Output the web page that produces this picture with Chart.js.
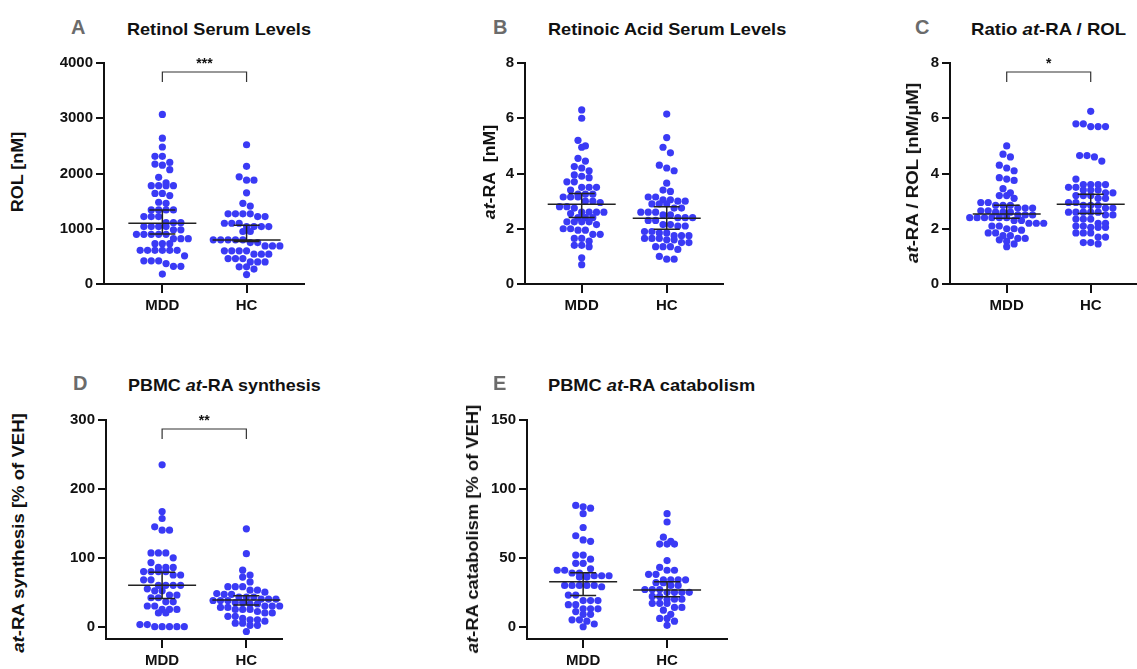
<!DOCTYPE html>
<html>
<head>
<meta charset="utf-8">
<script src="https://cdn.jsdelivr.net/npm/chart.js@4.4.1/dist/chart.umd.min.js"></script>
<style>
  body { margin: 0; background: #fff; width: 1137px; height: 669px; overflow: hidden; position: relative;
         font-family: "Liberation Sans", Arial, sans-serif; }
  canvas { position: absolute; }
  .lbl { position: absolute; font-weight: bold; white-space: nowrap; color: #6b6b6b; font-size: 20px; line-height: 1; }
  .ttl { position: absolute; font-weight: bold; white-space: nowrap; color: #111; font-size: 17px; line-height: 1;
         transform-origin: left center; }
  .ytl { position: absolute; font-weight: bold; white-space: nowrap; color: #111; font-size: 16px; line-height: 1; }
</style>
</head>
<body>
<script>
// groups on the x axis
const groups = ['MDD', 'HC'];

// A - retinol serum levels [nM]
const rolMDD = [3070, 2640, 2480, 2310, 2310, 2200, 2170, 2150, 2070, 1930, 1830, 1780, 1780, 1780, 1780,
  1640, 1640, 1600, 1480, 1460, 1340, 1340, 1340, 1340, 1220, 1220, 1220, 1110, 1110, 1110, 1040, 1040,
  1040, 1040, 980, 980, 900, 900, 900, 900, 900, 820, 820, 820, 730, 730, 730, 610, 610, 610, 610, 610,
  610, 510, 420, 420, 420, 370, 320, 320, 180];
const rolHC = [2520, 2130, 1940, 1880, 1880, 1650, 1460, 1410, 1270, 1270, 1270, 1270, 1220, 1220, 1100,
  1100, 1100, 1040, 1040, 1040, 1040, 950, 950, 800, 800, 800, 800, 800, 750, 750, 690, 690, 690, 600,
  600, 600, 600, 540, 540, 540, 460, 460, 460, 400, 400, 400, 310, 310, 270, 170];
const rolMed = [1100, 795], rolLo = [905, 770], rolHi = [1340, 1065];
const rolTicks = [0, 1000, 2000, 3000, 4000];

// B - at-RA serum levels [nM]
const raMDD = [6.3, 6.0, 5.2, 5.0, 4.95, 4.55, 4.45, 4.25, 4.2, 4.1, 3.95, 3.9, 3.85, 3.7, 3.7, 3.5, 3.5,
  3.5, 3.4, 3.25, 3.25, 3.25, 3.15, 3.15, 3.15, 3.0, 3.0, 2.95, 2.8, 2.8, 2.75, 2.6, 2.6, 2.6, 2.6, 2.55,
  2.4, 2.4, 2.4, 2.25, 2.25, 2.25, 2.25, 2.15, 2.0, 2.0, 1.95, 1.95, 1.8, 1.8, 1.65, 1.65, 1.55, 1.4,
  1.4, 1.35, 0.95, 0.7];
const raHC = [6.15, 5.3, 4.95, 4.75, 4.3, 4.2, 4.1, 3.65, 3.4, 3.35, 3.15, 3.15, 3.05, 3.05, 3.0, 3.0,
  2.9, 2.9, 2.9, 2.75, 2.75, 2.6, 2.6, 2.6, 2.5, 2.5, 2.4, 2.4, 2.4, 2.3, 2.3, 2.15, 2.15, 2.1, 2.1, 1.9,
  1.9, 1.85, 1.85, 1.75, 1.75, 1.75, 1.65, 1.65, 1.65, 1.6, 1.6, 1.5, 1.5, 1.35, 1.35, 1.35, 1.25, 1.0,
  0.9, 0.9];
const raMed = [2.89, 2.38], raLo = [2.41, 1.98], raHi = [3.28, 2.8];
const raTicks = [0, 2, 4, 6, 8];

// C - ratio at-RA / ROL [nM/uM]
const ratioMDD = [5.0, 4.7, 4.6, 4.3, 4.2, 4.1, 3.85, 3.8, 3.75, 3.45, 3.3, 3.2, 3.2, 3.1, 2.95, 2.95,
  2.85, 2.85, 2.85, 2.75, 2.75, 2.75, 2.65, 2.65, 2.6, 2.6, 2.6, 2.5, 2.5, 2.5, 2.4, 2.4, 2.4, 2.4, 2.4,
  2.4, 2.3, 2.3, 2.2, 2.2, 2.2, 2.1, 2.1, 2.0, 2.0, 1.95, 1.85, 1.85, 1.75, 1.75, 1.65, 1.65, 1.6, 1.55,
  1.45, 1.35];
const ratioHC = [6.25, 5.8, 5.8, 5.7, 5.7, 5.7, 4.65, 4.65, 4.6, 4.45, 3.8, 3.6, 3.6, 3.6, 3.6, 3.5, 3.5,
  3.4, 3.4, 3.4, 3.3, 3.3, 3.2, 3.2, 3.2, 3.1, 3.1, 2.95, 2.95, 2.85, 2.85, 2.85, 2.75, 2.75, 2.6, 2.6,
  2.6, 2.6, 2.6, 2.5, 2.5, 2.35, 2.35, 2.35, 2.2, 2.2, 2.1, 2.1, 2.05, 2.05, 2.05, 1.85, 1.85, 1.85, 1.7,
  1.7, 1.5, 1.5, 1.45];
const ratioMed = [2.53, 2.89], ratioLo = [2.38, 2.55], ratioHi = [2.85, 3.25];

// D - PBMC at-RA synthesis [% of VEH]
const synMDD = [235, 167, 157, 145, 140, 140, 107, 107, 107, 100, 93, 86, 86, 86, 80, 80, 80, 80, 75, 75,
  68, 68, 60, 60, 60, 60, 55, 52, 52, 46, 46, 42, 42, 36, 36, 30, 30, 25, 25, 25, 20, 20, 3, 3, 0, 0, 0, 0, 0];
const synHC = [142, 106, 82, 75, 72, 65, 58, 58, 58, 53, 53, 50, 48, 47, 47, 43, 43, 43, 40, 40, 40, 38,
  38, 38, 35, 35, 33, 33, 30, 30, 30, 28, 28, 25, 25, 25, 22, 20, 20, 15, 15, 12, 10, 10, 8, 5, 5, 2, 2, -7];
const synMed = [60, 38.7], synLo = [41, 31.5], synHi = [79, 45];
const synTicks = [0, 100, 200, 300];

// E - PBMC at-RA catabolism [% of VEH]
const catMDD = [88, 87, 86, 82, 72, 66, 63, 62, 52, 52, 49, 46, 46, 42, 41, 41, 39, 39, 37, 37, 37, 37,
  36, 36, 30, 30, 30, 30, 30, 29, 23, 23, 19, 19, 19, 16, 16, 13, 13, 13, 11, 9, 9, 5, 5, 4, 2, 0];
const catHC = [82, 76, 65, 62, 60, 60, 60, 48, 43, 41, 41, 38, 38, 34, 34, 34, 34, 32, 32, 30, 30, 27, 27,
  27, 25, 25, 25, 25, 22, 22, 20, 20, 20, 17, 17, 17, 14, 14, 12, 9, 6, 6, 4, 1];
const catMed = [32.7, 26.6], catLo = [22.7, 21.8], catHi = [39.2, 32.7];
const catTicks = [0, 50, 100, 150];

const significance = { A: '***', C: '*', D: '**' };

// layout of the five panels (page pixels)
const panels = [
  { key: 'A', vals: [rolMDD, rolHC], med: rolMed, lo: rolLo, hi: rolHi, ticks: rolTicks, ymin: 0, ymax: 4000,
    L: 103.5, T: 62.7, B: 284, R: 303, xmin: -0.693, xmax: 1.682,
    title: 'Retinol Serum Levels', tx: 127, ty: 21, tw: 184, lx: 71, ly: 17,
    ytitle: 'ROL [nM]', yx: 18, yy: 172, yl: 81 },
  { key: 'B', vals: [raMDD, raHC], med: raMed, lo: raLo, hi: raHi, ticks: raTicks, ymin: 0, ymax: 8,
    L: 525, T: 62.7, B: 284, R: 723, xmin: -0.667, xmax: 1.662,
    title: 'Retinoic Acid Serum Levels', tx: 548, ty: 21, tw: 238, lx: 493, ly: 17,
    ytitle: '<i>at</i>-RA&nbsp; [nM]', yx: 490, yy: 172, yl: 94 },
  { key: 'C', vals: [ratioMDD, ratioHC], med: ratioMed, lo: ratioLo, hi: ratioHi, ticks: raTicks, ymin: 0, ymax: 8,
    L: 950, T: 63.3, B: 284.3, R: 1137, xmin: -0.675, xmax: 1.551,
    title: 'Ratio <i>at</i>-RA / ROL', tx: 971, ty: 21, tw: 155, lx: 915, ly: 17,
    ytitle: '<i>at</i>-RA / ROL [nM/µM]', yx: 913, yy: 173, yl: 180 },
  { key: 'D', vals: [synMDD, synHC], med: synMed, lo: synLo, hi: synHi, ticks: synTicks, ymin: -17.9, ymax: 300,
    L: 105.5, T: 420, B: 639, R: 281.7, xmin: -0.666, xmax: 1.423,
    title: 'PBMC <i>at</i>-RA synthesis', tx: 128, ty: 377, tw: 193, lx: 73, ly: 373,
    ytitle: '<i>at</i>-RA synthesis [% of VEH]', yx: 19, yy: 533, yl: 240 },
  { key: 'E', vals: [catMDD, catHC], med: catMed, lo: catLo, hi: catHi, ticks: catTicks, ymin: -8.9, ymax: 150,
    L: 526.5, T: 420, B: 639, R: 726.7, xmin: -0.669, xmax: 1.714,
    title: 'PBMC <i>at</i>-RA catabolism', tx: 548, ty: 377, tw: 207, lx: 493, ly: 373,
    ytitle: '<i>at</i>-RA catabolism [% of VEH]', yx: 472.5, yy: 529, yl: 248 }
];

const YW = 60, PT = 16, PR = 4, XH = 40;
const DOT = 'rgb(58, 58, 245)';
const INK = '#111';
const FONT = { family: '"Liberation Sans", Arial, sans-serif', size: 15, weight: 'bold' };

// median with 95% CI, plus the significance bracket
const statsPlugin = {
  id: 'stats',
  afterDatasetsDraw(chart, args, opts) {
    const ctx = chart.ctx, xs = chart.scales.x, ys = chart.scales.y;
    ctx.save();
    ctx.strokeStyle = '#222';
    ctx.lineWidth = 1.5;
    opts.med.forEach((m, g) => {
      const cx = xs.getPixelForValue(g);
      const ym = ys.getPixelForValue(m), yl = ys.getPixelForValue(opts.lo[g]), yh = ys.getPixelForValue(opts.hi[g]);
      ctx.beginPath();
      ctx.moveTo(cx - 34, ym); ctx.lineTo(cx + 34, ym);
      ctx.moveTo(cx, yl); ctx.lineTo(cx, yh);
      ctx.moveTo(cx - 13, yl); ctx.lineTo(cx + 13, yl);
      ctx.moveTo(cx - 13, yh); ctx.lineTo(cx + 13, yh);
      ctx.stroke();
    });
    if (opts.sig) {
      const x0 = xs.getPixelForValue(0), x1 = xs.getPixelForValue(1), top = chart.chartArea.top;
      ctx.strokeStyle = '#333';
      ctx.lineWidth = 1.2;
      ctx.beginPath();
      ctx.moveTo(x0, top + 19); ctx.lineTo(x0, top + 9); ctx.lineTo(x1, top + 9); ctx.lineTo(x1, top + 19);
      ctx.stroke();
      ctx.fillStyle = INK;
      ctx.font = 'bold 14px "Liberation Sans", Arial, sans-serif';
      ctx.textAlign = 'center';
      ctx.textBaseline = 'middle';
      ctx.fillText(opts.sig, (x0 + x1) / 2, top + 1);
    }
    ctx.restore();
  }
};

// scatter-dot layout: dots that fall in the same row are spread symmetrically around the group centre
function swarm(chart) {
  const xs = chart.scales.x, ys = chart.scales.y, D = 7.4, ROW = 6.4;
  chart.data.datasets.forEach((ds, g) => {
    const cx = xs.getPixelForValue(g);
    const pts = ds.data.map((p, i) => ({ i, py: ys.getPixelForValue(p.y) })).sort((a, b) => a.py - b.py);
    const rows = [];
    let cur = null;
    pts.forEach(p => {
      if (!cur || p.py - cur[0].py >= ROW) { cur = []; rows.push(cur); }
      cur.push(p);
    });
    rows.forEach(r => r.forEach((p, k) => {
      ds.data[p.i].x = xs.getValueForPixel(cx + (k - (r.length - 1) / 2) * D);
    }));
  });
  chart.update('none');
}

function addText(cls, html, style) {
  const d = document.createElement('div');
  d.className = cls;
  d.innerHTML = html;
  Object.assign(d.style, style);
  document.body.appendChild(d);
  return d;
}

panels.forEach(p => {
  const cv = document.createElement('canvas');
  const w = Math.round(p.R - p.L + YW + PR), h = Math.round(p.B - p.T + PT + XH);
  cv.width = w; cv.height = h;
  cv.style.left = (p.L - YW) + 'px';
  cv.style.top = (p.T - PT) + 'px';
  cv.style.width = w + 'px'; cv.style.height = h + 'px';
  document.body.appendChild(cv);

  const chart = new Chart(cv.getContext('2d'), {
    type: 'scatter',
    data: {
      datasets: p.vals.map((v, g) => ({
        data: v.map(y => ({ x: g, y })),
        pointRadius: 3.6,
        pointBackgroundColor: DOT,
        pointBorderWidth: 0,
        clip: false
      }))
    },
    options: {
      responsive: false,
      animation: false,
      events: [],
      layout: { padding: { top: PT, right: PR, left: 0, bottom: 0 } },
      plugins: {
        legend: { display: false },
        tooltip: { enabled: false },
        stats: { med: p.med, lo: p.lo, hi: p.hi, sig: significance[p.key] }
      },
      scales: {
        x: {
          type: 'linear', min: p.xmin, max: p.xmax,
          afterBuildTicks: s => { s.ticks = groups.map((g, i) => ({ value: i })); },
          afterFit: s => { s.height = XH; },
          ticks: { callback: v => groups[v], font: FONT, color: INK, padding: 4, maxRotation: 0 },
          grid: { drawOnChartArea: false, tickLength: 9, color: INK, lineWidth: 2 },
          border: { color: INK, width: 2 }
        },
        y: {
          min: p.ymin, max: p.ymax,
          afterBuildTicks: s => { s.ticks = p.ticks.map(v => ({ value: v })); },
          afterFit: s => { s.width = YW; },
          ticks: { callback: v => String(v), font: FONT, color: INK, padding: 3 },
          grid: { drawOnChartArea: false, tickLength: 8, color: INK, lineWidth: 2 },
          border: { color: INK, width: 2 }
        }
      }
    },
    plugins: [statsPlugin]
  });
  swarm(chart);

  addText('lbl', p.key, { left: p.lx + 'px', top: p.ly + 'px' });
  const t = addText('ttl', p.title, { left: p.tx + 'px', top: p.ty + 'px' });
  t.style.transform = 'scaleX(' + (p.tw / t.offsetWidth).toFixed(3) + ')';
  const yt = addText('ytl', p.ytitle, { left: p.yx + 'px', top: p.yy + 'px' });
  yt.style.transform = 'translate(-50%, -50%) rotate(-90deg) scaleX(' + (p.yl / yt.offsetWidth).toFixed(3) + ')';
});
</script>
</body>
</html>
